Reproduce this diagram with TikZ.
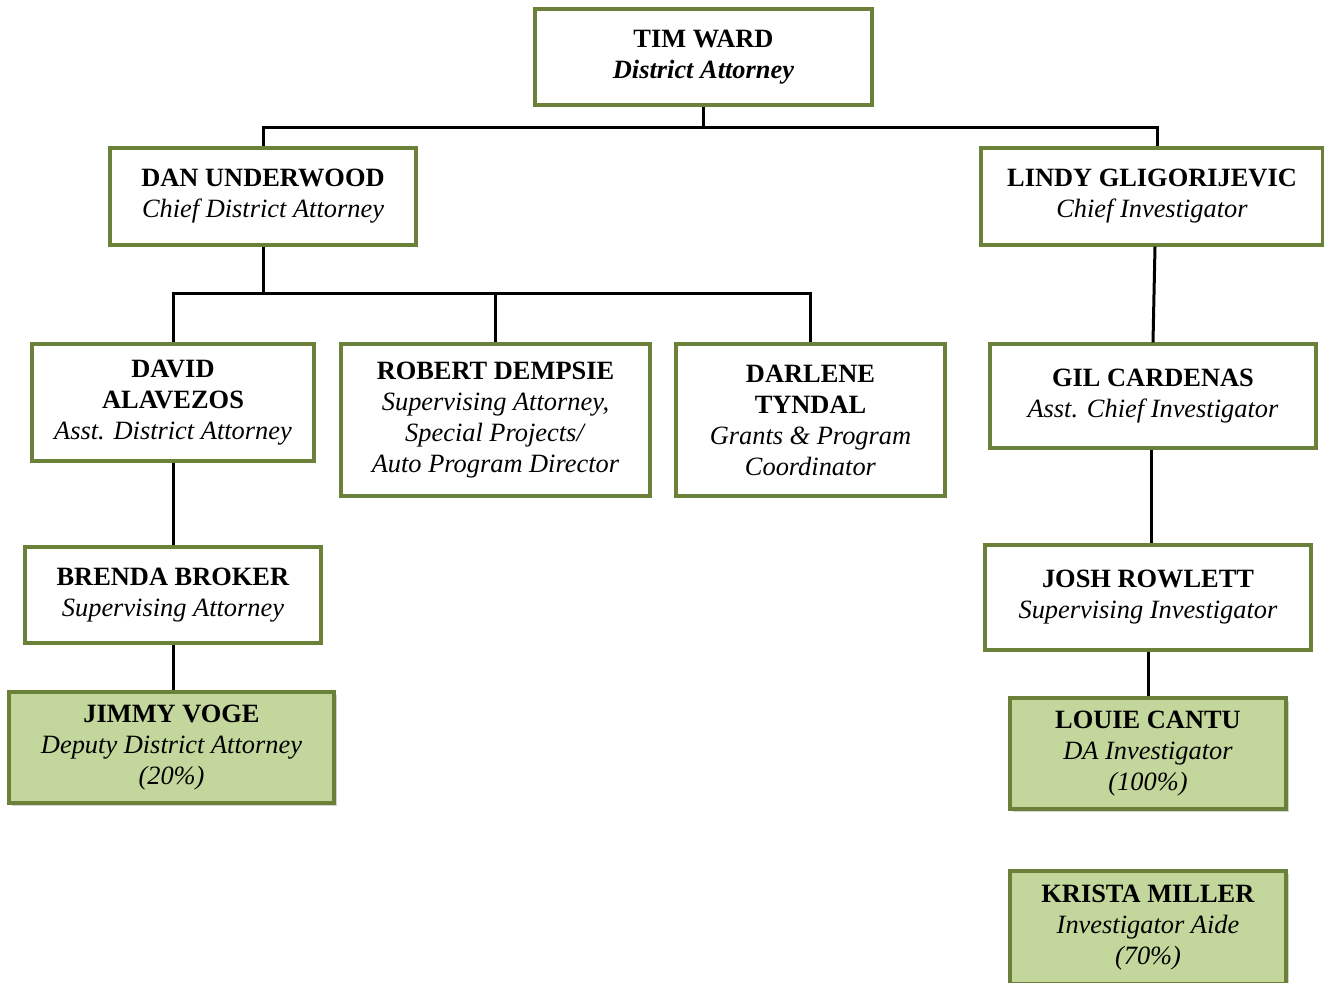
\documentclass[tikz,border=0pt]{standalone}
\usepackage{fontspec}
\setmainfont{Liberation Serif}
\usetikzlibrary{shadows}
\definecolor{oliveline}{RGB}{107,128,56}
\definecolor{leafgreen}{RGB}{195,214,155}
\tikzset{
  post/.style={draw=oliveline, line width=1.6pt, fill=white, align=center, inner sep=0pt,
    font=\fontsize{13.2}{15.5}\selectfont},
  staff/.style={post, fill=leafgreen, drop shadow={shadow xshift=1.5pt, shadow yshift=-1.5pt, opacity=0.35}},
  link/.style={line width=1.5pt, black}
}
\newcommand{\who}[2]{\textbf{#1}\\\textit{#2}}
\begin{document}
\begin{tikzpicture}[x=0.5pt,y=-0.5pt]
  \useasboundingbox (0,0) rectangle (1324,982);
  % top level
  \node[post, minimum width=168.5pt, minimum height=48pt] (tim) at (703.5,57) {\textbf{TIM WARD}\\\textbf{\textit{District Attorney}}};
  \node[post, minimum width=153pt, minimum height=48.5pt] (dan) at (263,196.5) {\who{DAN UNDERWOOD}{Chief District Attorney}};
  \node[post, minimum width=171pt, minimum height=48.5pt] (lindy) at (1152,196.5) {\who{LINDY GLIGORIJEVIC}{Chief Investigator}};
  % attorneys
  \node[post, minimum width=141pt, minimum height=58.5pt] (david) at (173,402.5) {\textbf{DAVID}\\\textbf{ALAVEZOS}\\\textit{Asst. District Attorney}};
  \node[post, minimum width=154.5pt, minimum height=76pt] (robert) at (495.5,420) {\who{ROBERT DEMPSIE}{Supervising Attorney,}\\\textit{Special Projects/}\\\textit{Auto Program Director}};
  \node[post, minimum width=134.5pt, minimum height=76pt] (darlene) at (810.5,420) {\textbf{DARLENE}\\\textbf{TYNDAL}\\\textit{Grants \& Program}\\\textit{Coordinator}};
  \node[post, minimum width=148pt, minimum height=48pt] (brenda) at (173,595) {\who{BRENDA BROKER}{Supervising Attorney}};
  \node[staff, minimum width=162.5pt, minimum height=55.5pt] (jimmy) at (171.5,747.5) {\who{JIMMY VOGE}{Deputy District Attorney}\\\textit{(20\%)}};
  % investigators
  \node[post, minimum width=163pt, minimum height=52pt] (gil) at (1153,396) {\who{GIL CARDENAS}{Asst. Chief Investigator}};
  \node[post, minimum width=163pt, minimum height=52.5pt] (josh) at (1148,597.5) {\who{JOSH ROWLETT}{Supervising Investigator}};
  \node[staff, minimum width=138pt, minimum height=55.5pt] (louie) at (1148,753.5) {\who{LOUIE CANTU}{DA Investigator}\\\textit{(100\%)}};
  \node[staff, minimum width=138pt, minimum height=56.5pt] (krista) at (1148,927.5) {\who{KRISTA MILLER}{Investigator Aide}\\\textit{(70\%)}};
  % lines
  \draw[link] (tim.south) -- (tim.south |- 0,127) -| (dan.north);
  \draw[link] (tim.south |- 0,127) -| ([xshift=2.5pt]lindy.north);
  \draw[link] (dan.south) -- (dan.south |- 0,293) -| (david.north);
  \draw[link] (dan.south |- 0,293) -| (robert.north);
  \draw[link] (dan.south |- 0,293) -| (darlene.north);
  \draw[link] (david.south) -- (brenda.north);
  \draw[link] (brenda.south) -- (jimmy.north -| brenda.south);
  \draw[link] ([xshift=1.5pt]lindy.south) -- (gil.north);
  \draw[link] ([xshift=-1pt]gil.south) -- ([xshift=-1pt]gil.south |- josh.north);
  \draw[link] (josh.south) -- (louie.north);
\end{tikzpicture}
\end{document}
